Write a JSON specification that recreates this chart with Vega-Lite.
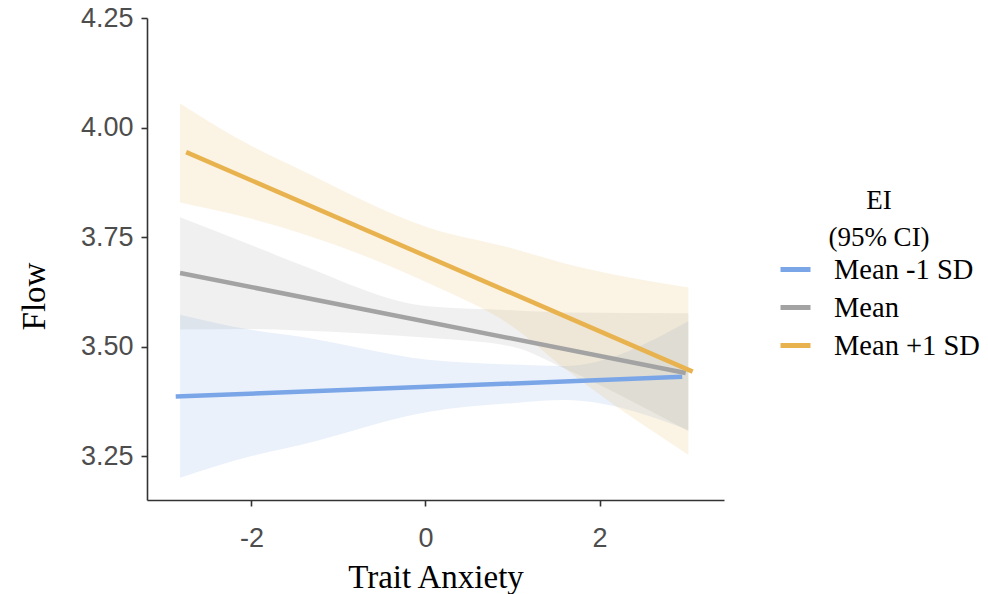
{
  "$schema": "https://vega.github.io/schema/vega-lite/v6.json",
  "autosize": {"type": "none"},
  "padding": {"left": 147, "top": 18, "right": 264, "bottom": 94},
  "width": 577,
  "height": 482,
  "background": "white",
  "config": {
    "view": {"stroke": null},
    "axis": {
      "grid": false,
      "domainColor": "#333333",
      "domainWidth": 1.6,
      "tickColor": "#333333",
      "tickWidth": 1.6,
      "tickSize": 6,
      "labelFont": "Liberation Sans",
      "labelFontSize": 27,
      "labelColor": "#4d4d4d",
      "titleFont": "Liberation Serif",
      "titleFontSize": 33,
      "titleFontWeight": "normal",
      "titleColor": "#000000"
    },
    "legend": {
      "titleFont": "Liberation Serif",
      "titleFontSize": 27,
      "titleFontWeight": "normal",
      "titleColor": "#000000",
      "labelFont": "Liberation Serif",
      "labelFontSize": 28.5,
      "labelColor": "#000000"
    }
  },
  "datasets": {
    "bands": [
      {"ei": "Mean -1 SD", "x": -2.82, "lo": 3.201, "hi": 3.573},
      {"ei": "Mean -1 SD", "x": -2.02, "lo": 3.249, "hi": 3.539},
      {"ei": "Mean -1 SD", "x": -1.45, "lo": 3.275, "hi": 3.523},
      {"ei": "Mean -1 SD", "x": 0.03, "lo": 3.351, "hi": 3.47},
      {"ei": "Mean -1 SD", "x": 1.0, "lo": 3.371, "hi": 3.459},
      {"ei": "Mean -1 SD", "x": 1.6, "lo": 3.378, "hi": 3.456},
      {"ei": "Mean -1 SD", "x": 3.02, "lo": 3.31, "hi": 3.558},
      {"ei": "Mean", "x": -2.82, "lo": 3.539, "hi": 3.795},
      {"ei": "Mean", "x": -2.02, "lo": 3.54, "hi": 3.733},
      {"ei": "Mean", "x": -1.45, "lo": 3.537, "hi": 3.688},
      {"ei": "Mean", "x": 0.03, "lo": 3.52, "hi": 3.592},
      {"ei": "Mean", "x": 1.0, "lo": 3.5, "hi": 3.583},
      {"ei": "Mean", "x": 1.6, "lo": 3.45, "hi": 3.578},
      {"ei": "Mean", "x": 3.02, "lo": 3.307, "hi": 3.576},
      {"ei": "Mean +1 SD", "x": -2.82, "lo": 3.829, "hi": 4.055},
      {"ei": "Mean +1 SD", "x": -2.02, "lo": 3.793, "hi": 3.96},
      {"ei": "Mean +1 SD", "x": -1.45, "lo": 3.76, "hi": 3.905},
      {"ei": "Mean +1 SD", "x": 0.03, "lo": 3.645, "hi": 3.772},
      {"ei": "Mean +1 SD", "x": 1.0, "lo": 3.546, "hi": 3.724},
      {"ei": "Mean +1 SD", "x": 1.6, "lo": 3.45, "hi": 3.69},
      {"ei": "Mean +1 SD", "x": 3.02, "lo": 3.253, "hi": 3.635}
    ],
    "lines": [
      {"ei": "Mean -1 SD", "x": -2.87, "y": 3.386},
      {"ei": "Mean -1 SD", "x": 2.95, "y": 3.431},
      {"ei": "Mean", "x": -2.82, "y": 3.668},
      {"ei": "Mean", "x": 2.99, "y": 3.44},
      {"ei": "Mean +1 SD", "x": -2.75, "y": 3.944},
      {"ei": "Mean +1 SD", "x": 3.07, "y": 3.443}
    ]
  },
  "encoding": {
    "x": {"field": "x", "type": "quantitative", "title": "Trait Anxiety",
      "scale": {"domain": [-3.2, 3.43], "nice": false, "zero": false},
      "axis": {"values": [-2, 0, 2], "labelExpr": "datum.value + ''", "labelPadding": 19, "titlePadding": 10}},
    "color": {"field": "ei", "type": "nominal",
      "scale": {"domain": ["Mean -1 SD", "Mean", "Mean +1 SD"], "range": ["#7aa6e8", "#a3a3a3", "#e8b34f"]},
      "legend": {
        "title": ["EI", "(95% CI)"],
        "orient": "none",
        "legendX": 631,
        "legendY": 170,
        "titleAnchor": "middle",
        "titleAlign": "center",
        "titleLineHeight": 37,
        "titlePadding": 0,
        "symbolType": "stroke",
        "symbolStrokeWidth": 5,
        "symbolSize": 900,
        "labelOffset": 21,
        "rowPadding": 6
      }}
  },
  "layer": [
    {
      "data": {"name": "bands"},
      "mark": {"type": "area", "interpolate": "monotone", "fillOpacity": 0.16},
      "encoding": {
        "y": {"field": "lo", "type": "quantitative", "title": "Flow",
          "scale": {"domain": [3.15, 4.25], "nice": false, "zero": false},
          "axis": {"values": [3.25, 3.5, 3.75, 4.0, 4.25], "format": ".2f", "labelPadding": 8, "titleX": -96, "titleY": 278}},
        "y2": {"field": "hi"}
      }
    },
    {
      "data": {"name": "lines"},
      "mark": {"type": "line", "strokeWidth": 4.5},
      "encoding": {
        "y": {"field": "y", "type": "quantitative", "title": "Flow",
          "scale": {"domain": [3.15, 4.25], "nice": false, "zero": false},
          "axis": {"values": [3.25, 3.5, 3.75, 4.0, 4.25], "format": ".2f", "labelPadding": 8, "titleX": -96, "titleY": 278}}
      }
    }
  ]
}
